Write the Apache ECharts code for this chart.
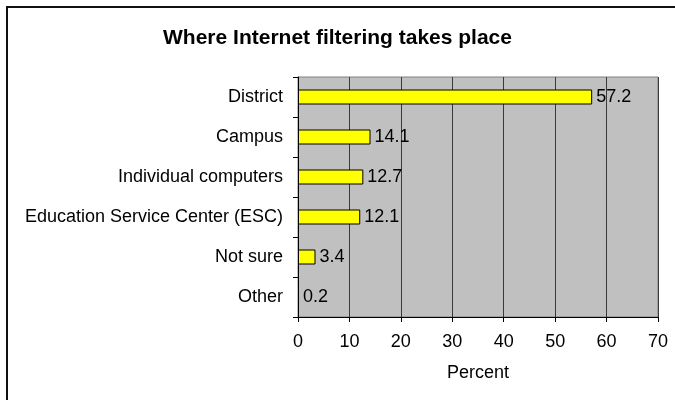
<!DOCTYPE html>
<html>
<head>
<meta charset="utf-8">
<script src="https://cdn.jsdelivr.net/npm/echarts@6/dist/echarts.min.js"></script>
<style>
  html, body { margin: 0; padding: 0; background: #fff; }
  #chart { width: 675px; height: 400px; }
</style>
</head>
<body>
<div id="chart"></div>
<script>
// Where Internet filtering takes place (percent of respondents)
const categories = [
  'District',
  'Campus',
  'Individual computers',
  'Education Service Center (ESC)',
  'Not sure',
  'Other'
];
const percents = [57.2, 14.1, 12.7, 12.1, 3.4, 0.2];
const xTicks = [0, 10, 20, 30, 40, 50, 60, 70];

const FONT = 'Liberation Sans, Arial, sans-serif';
const chart = echarts.init(document.getElementById('chart'));

chart.setOption({
  animation: false,
  backgroundColor: '#ffffff',
  title: {
    text: 'Where Internet filtering takes place',
    left: 'center',
    top: 23,
    textStyle: { fontFamily: FONT, fontSize: 21, fontWeight: 'bold', color: '#000' }
  },
  graphic: [{
    type: 'rect',
    shape: { x: 7, y: 7, width: 720, height: 440 },
    style: { fill: 'none', stroke: '#111', lineWidth: 2 },
    silent: true,
    z: 100
  }],
  grid: {
    left: 298, right: 17, top: 77, bottom: 83,
    show: true,
    backgroundColor: '#c0c0c0',
    borderColor: '#808080',
    borderWidth: 1
  },
  xAxis: {
    type: 'value',
    min: xTicks[0],
    max: xTicks[xTicks.length - 1],
    interval: 10,
    name: 'Percent',
    nameLocation: 'middle',
    nameGap: 47,
    nameTextStyle: { fontFamily: FONT, fontSize: 18, color: '#000' },
    axisLine: { show: true, lineStyle: { color: '#000', width: 1 } },
    axisTick: { show: true, length: 5, lineStyle: { color: '#000' } },
    axisLabel: { fontFamily: FONT, fontSize: 18, color: '#000', margin: 16 },
    splitLine: { show: true, lineStyle: { color: '#3a3a3a', width: 1 } }
  },
  yAxis: {
    type: 'category',
    data: categories,
    inverse: true,
    axisLine: { show: true, lineStyle: { color: '#000', width: 1 } },
    axisTick: { show: true, length: 5, inside: false, lineStyle: { color: '#000' } },
    axisLabel: { fontFamily: FONT, fontSize: 18, color: '#000', margin: 15 },
    splitLine: { show: false }
  },
  series: [{
    type: 'bar',
    data: percents,
    barWidth: 15,
    itemStyle: { color: '#ffff00', borderColor: '#000', borderWidth: 1 },
    label: {
      show: true,
      position: 'right',
      distance: 4,
      fontFamily: FONT,
      fontSize: 18,
      color: '#000',
      formatter: p => p.value.toFixed(1)
    }
  }]
});
</script>
</body>
</html>
